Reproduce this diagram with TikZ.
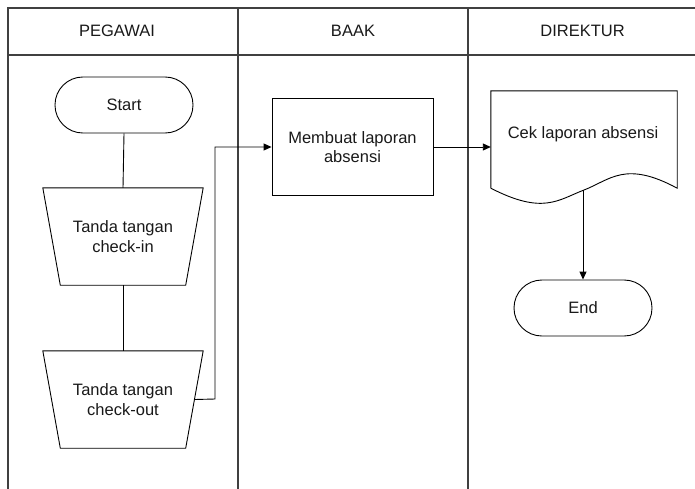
\documentclass[tikz,border=0pt]{standalone}
\usepackage{fontspec}
\setmainfont{Liberation Sans}
\usetikzlibrary{arrows.meta}
\begin{document}
\begin{tikzpicture}[x=1pt,y=-1pt,
  every node/.style={font=\fontsize{16.5}{19.5}\selectfont, text=black!90},
  lane/.style={draw=black!75, line width=1.2pt},
  box/.style={draw=black, line width=0.9pt, minimum width=161pt, minimum height=97pt, align=center, inner sep=0pt},
  ghost/.style={minimum width=160pt, minimum height=97pt, inner sep=0pt, align=center},
  term/.style={draw=black, line width=0.9pt, rounded corners=27.9pt, minimum width=138pt, minimum height=56pt, inner sep=0pt},
  conn/.style={draw=black, line width=0.9pt},
  arr/.style={conn, -{Triangle[length=8pt,width=7pt]}}]
\useasboundingbox (0,0) rectangle (695,488);
\begin{scope}
\clip (0,0) rectangle (695,488);
% swimlanes
\draw[lane] (8,500) -- (8,8) -- (710,8);
\draw[lane] (8,55) -- (710,55);
\draw[lane] (238,8) -- (238,500);
\draw[lane] (468,8) -- (468,500);
\end{scope}
\node (h1) at (117,31) {PEGAWAI};
\node (h2) at (353,31) {BAAK};
\node (h3) at (582.5,31) {DIREKTUR};
% Start
\node[term] (start) at (124,105) {Start};
% trapezoids
\node[ghost] (t1) at (123,236.5) {Tanda tangan\\check-in};
\draw[line width=0.9pt] (t1.north west) -- (t1.north east) -- ([xshift=-17.5pt]t1.south east) -- ([xshift=17.5pt]t1.south west) -- cycle;
\node[ghost] (t2) at (123,399.5) {Tanda tangan\\check-out};
\draw[line width=0.9pt] (t2.north west) -- (t2.north east) -- ([xshift=-17.5pt]t2.south east) -- ([xshift=17.5pt]t2.south west) -- cycle;
\draw[conn] (start.south) -- (t1.north);
\draw[conn] (t1.south) -- (t2.north);
% BAAK box
\node[box] (mb) at (352.5,147) {Membuat laporan\\absensi};
\coordinate (t2e) at ([xshift=-8.75pt]t2.east);
\coordinate (bend) at (215,399);
\draw[arr] (t2e) -- (bend) |- (mb.west);
% document
\node[minimum width=186pt, minimum height=97pt, inner sep=0pt] (doc) at (584,139.5) {};
\node (doctext) at (583,134) {Cek laporan absensi};
\draw[line width=0.9pt] (doc.south west) -- (doc.north west) -- (doc.north east) -- (doc.south east)
  .. controls (625,160) and (610,180) .. (584,190)
  .. controls (558,200) and (543,215) .. (doc.south west);
\coordinate (docb) at (583,190);
\draw[arr] (mb.east) -- (mb.east -| doc.west);
% End
\node[term] (end) at (583,308) {End};
\draw[arr] (docb) -- (end.north);
\end{tikzpicture}
\end{document}
